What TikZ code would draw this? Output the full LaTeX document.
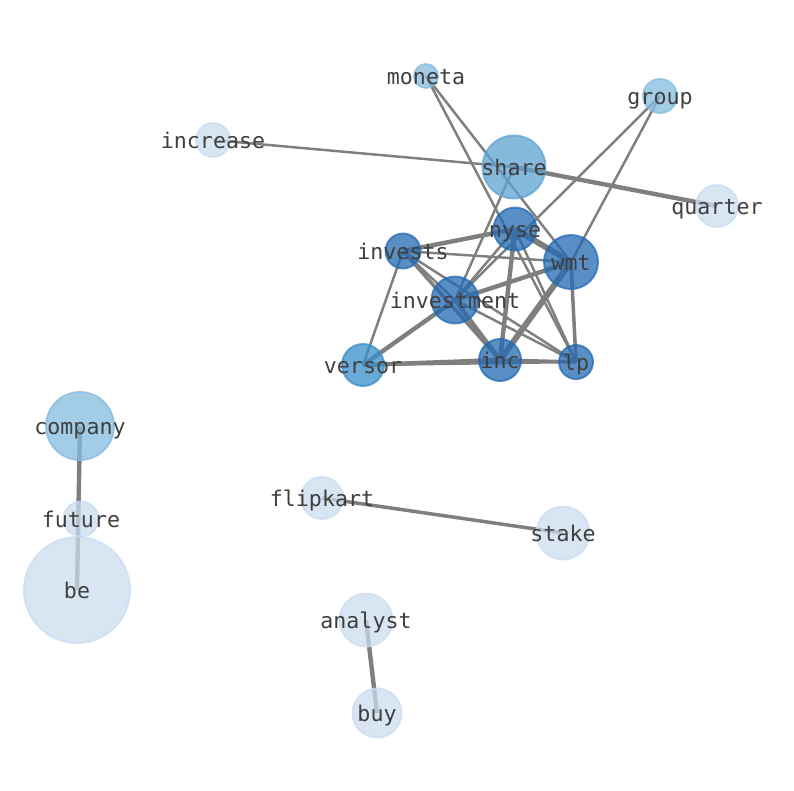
\documentclass[tikz,border=0pt]{standalone}
\usepackage{fontspec}
\setmonofont{DejaVu Sans Mono}
\usetikzlibrary{backgrounds}
\definecolor{lightblue}{HTML}{CBDCEF}
\definecolor{paleblue}{HTML}{84BBDE}
\definecolor{midblue}{HTML}{5EA3D2}
\definecolor{versorblue}{HTML}{388ECA}
\definecolor{deepblue}{HTML}{236AB3}
\definecolor{ink}{HTML}{3F3F3F}
\definecolor{edgegray}{HTML}{7F7F7F}

\begin{document}
\begin{tikzpicture}[
  x=0.2mm, y=-0.2mm,
  word/.style={circle, inner sep=0pt, line width=1.1pt,
    fill opacity=0.75, draw opacity=0.75},
  light/.style={word, fill=lightblue, draw=lightblue},
  pale/.style={word, fill=paleblue, draw=paleblue},
  mid/.style={word, fill=midblue, draw=midblue},
  vers/.style={word, fill=versorblue, draw=versorblue},
  deep/.style={word, fill=deepblue, draw=deepblue},
  every label/.style={font=\ttfamily\fontsize{12.3}{14}\selectfont, text=ink,
    inner sep=0pt, text height=0.76em, text depth=0pt, yshift=-0.8pt},
  thin/.style={draw=edgegray, line width=1.4pt},
  medium/.style={draw=edgegray, line width=2pt},
  thick/.style={draw=edgegray, line width=2.5pt},
  heavy/.style={draw=edgegray, line width=3.4pt}
]
\useasboundingbox (0,0) rectangle (794,790);

% upper cluster
\node[pale, minimum size=24*0.2mm, label=center:moneta] (moneta) at (426,76) {};
\node[pale, minimum size=34*0.2mm, label=center:group] (group) at (660,96) {};
\node[light, minimum size=34*0.2mm, label=center:increase] (increase) at (213,140) {};
\node[mid, minimum size=63*0.2mm, label=center:share] (share) at (514,167) {};
\node[light, minimum size=42*0.2mm, label=center:quarter] (quarter) at (717,206) {};
\node[deep, minimum size=43*0.2mm, label=center:nyse] (nyse) at (515,229) {};
\node[deep, minimum size=35*0.2mm, label=center:invests] (invests) at (403,251) {};
\node[deep, minimum size=54*0.2mm, label=center:wmt] (wmt) at (571,262) {};
\node[deep, minimum size=47*0.2mm, label=center:investment] (investment) at (455,300) {};
\node[vers, minimum size=42*0.2mm, label=center:versor] (versor) at (363,365) {};
\node[deep, minimum size=42*0.2mm, label=center:inc] (inc) at (500,360) {};
\node[deep, minimum size=34*0.2mm, label=center:lp] (lp) at (576,362) {};

% left chain
\node[pale, minimum size=68*0.2mm, label=center:company] (company) at (80,426) {};
\node[light, minimum size=106*0.2mm, label=center:be] (be) at (77,590) {};
\node[light, minimum size=35*0.2mm, label=center:future] (future) at (81,519) {};

% pairs
\node[light, minimum size=42*0.2mm, label=center:flipkart] (flipkart) at (322,498) {};
\node[light, minimum size=53*0.2mm, label=center:stake] (stake) at (563,533) {};
\node[light, minimum size=53*0.2mm, label=center:analyst] (analyst) at (366,620) {};
\node[light, minimum size=49*0.2mm, label=center:buy] (buy) at (377,713) {};

\begin{scope}[on background layer]
  \draw[thin] (increase.center) -- (share.center);
  \draw[thick] (share.center) -- (quarter.center);
  \draw[thin] (share.center) -- (investment.center);
  \draw[thin] (moneta.center) -- (wmt.center);
  \draw[thin] (moneta.center) -- (lp.center);
  \draw[thin] (group.center) -- (investment.center);
  \draw[thin] (group.center) -- (wmt.center);
  \draw[thick] (invests.center) -- (nyse.center);
  \draw[thin] (invests.center) -- (wmt.center);
  \draw[thin] (invests.center) -- (versor.center);
  \draw[thin] (invests.center) -- (investment.center);
  \draw[medium] (invests.center) -- (inc.center);
  \draw[thin] (invests.center) -- (lp.center);
  \draw[heavy] (nyse.center) -- (wmt.center);
  \draw[thick] (nyse.center) -- (inc.center);
  \draw[thin] (nyse.center) -- (lp.center);
  \draw[thin] (nyse.center) -- (investment.center);
  \draw[thick] (wmt.center) -- (investment.center);
  \draw[heavy] (wmt.center) -- (inc.center);
  \draw[medium] (wmt.center) -- (lp.center);
  \draw[thick] (investment.center) -- (inc.center);
  \draw[thin] (investment.center) -- (lp.center);
  \draw[thick] (investment.center) -- (versor.center);
  \draw[thick] (versor.center) -- (inc.center);
  \draw[thin] (versor.center) -- (lp.center);
  \draw[medium] (inc.center) -- (lp.center);
  \draw[thick] (company.center) -- (be.center);
  \draw[medium] (flipkart.center) -- (stake.center);
  \draw[thick] (analyst.center) -- (buy.center);
\end{scope}

\end{tikzpicture}
\end{document}
